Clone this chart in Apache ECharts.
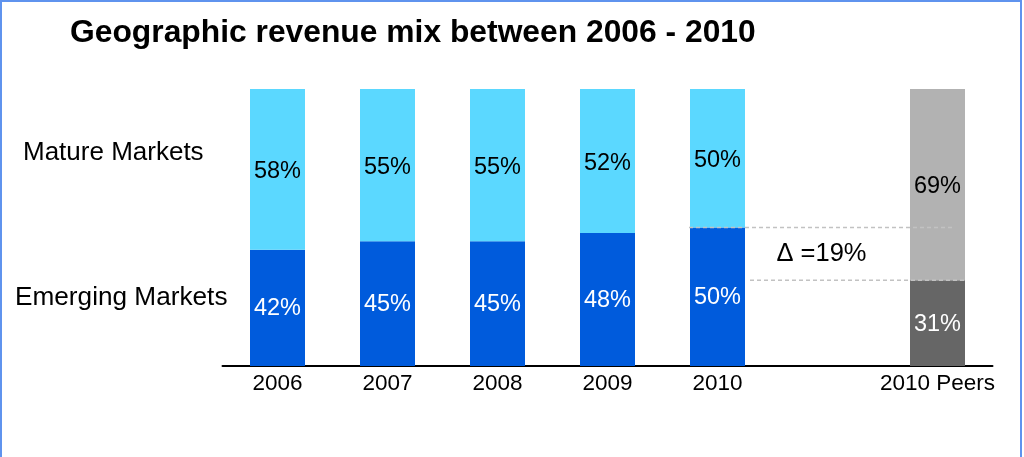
<!DOCTYPE html>
<html>
<head>
<meta charset="utf-8">
<script src="https://cdn.jsdelivr.net/npm/echarts@6/dist/echarts.min.js"></script>
<style>
  html, body { margin: 0; padding: 0; background: #ffffff; }
  #chart { width: 1024px; height: 457px; }
</style>
</head>
<body>
<div id="chart"></div>
<script>
// Revenue split by region, share of total (%)
const categories = ['2006', '2007', '2008', '2009', '2010', '', '2010 Peers'];
const emerging   = [42, 45, 45, 48, 50, null, 31];
const mature     = [58, 55, 55, 52, 50, null, 69];
const rowLabels  = ['Mature Markets', 'Emerging Markets'];
const titleText  = 'Geographic revenue mix between 2006 - 2010';

const FONT = '"Liberation Sans", Arial, sans-serif';
const PEERS = '2010 Peers';
const COLORS = {
  emerging: '#005bdc', mature: '#5bd8ff',
  peersEmerging: '#666666', peersMature: '#b2b2b2'
};

function segment(values, color, peerColor, labelColor, peerLabelColor) {
  return values.map((v, i) => {
    if (v == null) return null;
    const isPeer = categories[i] === PEERS;
    return {
      value: v,
      itemStyle: { color: isPeer ? peerColor : color },
      label: { color: isPeer ? peerLabelColor : labelColor }
    };
  });
}

function valueLabel(dy) {
  return {
    show: true,
    position: 'inside',
    offset: [0, dy],
    fontFamily: FONT,
    fontSize: 23.5,
    formatter: p => p.value + '%'
  };
}

const chart = echarts.init(document.getElementById('chart'), null, { renderer: 'canvas' });

chart.setOption({
  animation: false,
  backgroundColor: '#ffffff',
  title: {
    text: titleText,
    left: 65, top: 12,
    textStyle: { fontFamily: FONT, fontSize: 31.8, fontWeight: 'bold', color: '#000000' }
  },
  grid: { left: 222.5, right: 31.5, top: 89, bottom: 91, containLabel: false },
  xAxis: {
    type: 'category',
    data: categories,
    axisLine: { lineStyle: { color: '#000000', width: 2 } },
    axisTick: { show: false },
    axisLabel: { fontFamily: FONT, fontSize: 22.5, color: '#000000', margin: 6, interval: 0 }
  },
  yAxis: {
    type: 'value', min: 0, max: 100, show: false,
    splitLine: { show: false }
  },
  series: [
    {
      name: 'Emerging Markets', type: 'bar', stack: 'mix', barWidth: 55,
      data: segment(emerging, COLORS.emerging, COLORS.peersEmerging, '#ffffff', '#ffffff'),
      label: valueLabel(1)
    },
    {
      name: 'Mature Markets', type: 'bar', stack: 'mix', barWidth: 55,
      data: segment(mature, COLORS.mature, COLORS.peersMature, '#000000', '#000000'),
      label: valueLabel(2)
    }
  ]
});

// Annotation: gap between own 2010 emerging share and peers' emerging share
const i2010 = categories.indexOf('2010');
const iPeer = categories.indexOf(PEERS);
const own = emerging[i2010];
const peer = emerging[iPeer];
const pOwn = chart.convertToPixel({ gridIndex: 0 }, [i2010, own]);
const pPeer = chart.convertToPixel({ gridIndex: 0 }, [iPeer, peer]);
const pGap = chart.convertToPixel({ gridIndex: 0 }, [categories.indexOf(''), (own + peer) / 2]);
const half = 27.5;
const dash = { stroke: '#c2c2c2', lineWidth: 1.5, lineDash: [4, 3] };

chart.setOption({
  graphic: [
    {
      type: 'rect', silent: true, z: 100,
      shape: { x: 1, y: 1, width: 1020, height: 470 },
      style: { fill: 'none', stroke: '#5f93ee', lineWidth: 2 }
    },
    {
      type: 'line', silent: true, z: 50,
      shape: { x1: pOwn[0] - half - 1, y1: pOwn[1], x2: pPeer[0] + 17, y2: pOwn[1] },
      style: dash
    },
    {
      type: 'line', silent: true, z: 50,
      shape: { x1: pOwn[0] + half + 5, y1: pPeer[1], x2: pPeer[0] + half + 1, y2: pPeer[1] },
      style: dash
    },
    {
      type: 'text', silent: true, z: 50,
      x: pGap[0] - 6, y: pGap[1],
      style: {
        text: '\u0394 =' + (own - peer) + '%',
        fontFamily: FONT, fontSize: 25.5, fill: '#000000',
        align: 'center', verticalAlign: 'middle'
      }
    },
    {
      type: 'text', silent: true,
      x: 23, y: 153,
      style: { text: rowLabels[0], fontFamily: FONT, fontSize: 26, fill: '#000000', verticalAlign: 'middle' }
    },
    {
      type: 'text', silent: true,
      x: 15, y: 298,
      style: { text: rowLabels[1], fontFamily: FONT, fontSize: 26.2, fill: '#000000', verticalAlign: 'middle' }
    }
  ]
});
</script>
</body>
</html>
